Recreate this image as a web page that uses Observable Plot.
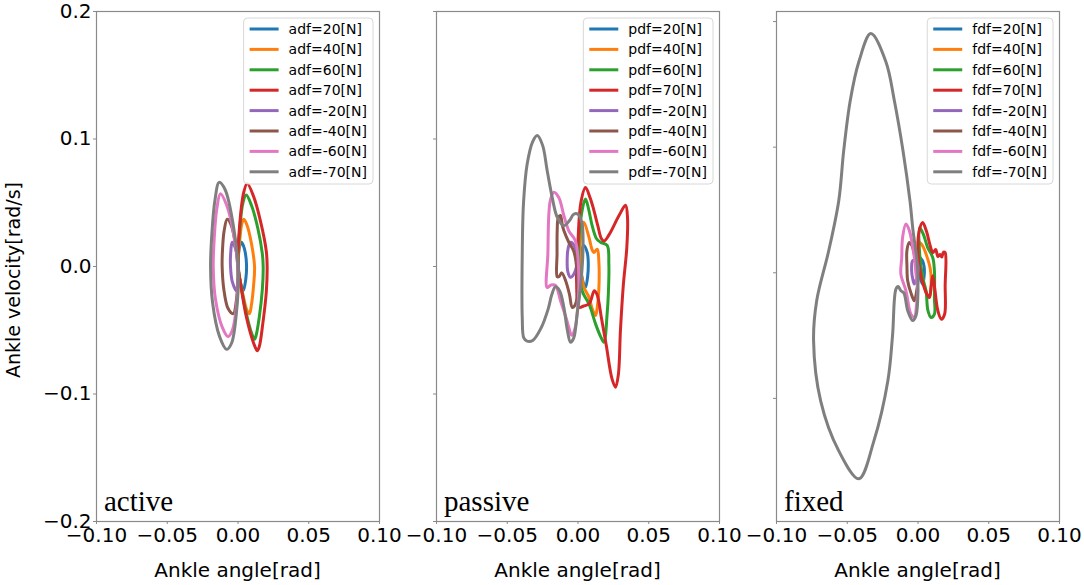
<!DOCTYPE html>
<html><head><meta charset="utf-8">
<script src="https://cdn.jsdelivr.net/npm/d3@7"></script>
<script src="https://cdn.jsdelivr.net/npm/@observablehq/plot@0.6"></script>
<style>
html,body{margin:0;padding:0;background:#fff;}
#wrap{position:relative;width:1084px;height:585px;overflow:hidden;background:#fff;}
#wrap svg{position:absolute;top:0;}
</style></head><body><div id="wrap"></div>
<script>
// ---- categories / labels ----
const forces = [20, 40, 60, 70, -20, -40, -60, -70];
const colors = ["#1f77b4","#ff7f0e","#2ca02c","#d62728","#9467bd","#8c564b","#e377c2","#7f7f7f"];
const prefixes = ["adf", "pdf", "fdf"];
const panelNames = ["active", "passive", "fixed"];
const xTicks = [-0.1, -0.05, 0, 0.05, 0.1];
const yTicks = [-0.2, -0.1, 0, 0.1, 0.2];
const yTicksFixed = [-0.1, 0, 0.1, 0.2];
const yDomain = [-0.2, 0.2];
const yDomainFixed = [-0.198, 0.208];
const xLabel = "Ankle angle[rad]";
const yLabel = "Ankle velocity[rad/s]";

// ---- active: [angle, velocity] ----
const a20 = [[0.0025,0.019],[0.0045,0.014],[0.0060,0.002],[0.0055,-0.010],[0.0037,-0.019],[0.0020,-0.014],[0.0005,-0.004],[0.0003,0.008],[0.0012,0.016]];
const a40 = [[0.0041,0.037],[0.0065,0.032],[0.0095,0.018],[0.0117,0.000],[0.0110,-0.015],[0.0095,-0.030],[0.0081,-0.037],[0.0062,-0.034],[0.0035,-0.022],[0.0010,-0.008],[0.0000,0.002],[0.0012,0.020],[0.0028,0.034]];
const a60 = [[0.0058,0.056],[0.0095,0.048],[0.0140,0.030],[0.0172,0.010],[0.0178,0.000],[0.0172,-0.018],[0.0150,-0.040],[0.0128,-0.054],[0.0117,-0.057],[0.0095,-0.052],[0.0055,-0.035],[0.0018,-0.013],[0.0000,0.000],[0.0010,0.026],[0.0035,0.050]];
const a70 = [[0.0065,0.065],[0.0110,0.055],[0.0160,0.035],[0.0200,0.012],[0.0206,0.000],[0.0200,-0.020],[0.0175,-0.045],[0.0150,-0.063],[0.0136,-0.066],[0.0110,-0.060],[0.0060,-0.040],[0.0020,-0.015],[0.0000,0.000],[0.0010,0.030],[0.0040,0.058]];
const aM20 = [[-0.0041,0.019],[-0.0052,0.010],[-0.0053,0.000],[-0.0040,-0.012],[-0.0010,-0.019],[0.0000,-0.010],[0.0000,0.002],[-0.0015,0.013]];
const aM40 = [[-0.0076,0.037],[-0.0098,0.028],[-0.0110,0.012],[-0.0112,0.000],[-0.0100,-0.018],[-0.0070,-0.033],[-0.0034,-0.037],[-0.0010,-0.025],[0.0000,-0.005],[-0.0015,0.015],[-0.0050,0.033]];
const aM60 = [[-0.0124,0.057],[-0.0150,0.045],[-0.0168,0.022],[-0.0175,0.000],[-0.0160,-0.025],[-0.0110,-0.048],[-0.0070,-0.055],[-0.0040,-0.050],[-0.0010,-0.030],[0.0000,-0.005],[-0.0030,0.025],[-0.0080,0.048]];
const aM70 = [[-0.0133,0.066],[-0.0163,0.052],[-0.0185,0.025],[-0.0194,0.000],[-0.0180,-0.028],[-0.0130,-0.055],[-0.0080,-0.065],[-0.0045,-0.060],[-0.0010,-0.035],[0.0002,-0.005],[-0.0030,0.030],[-0.0090,0.060]];

// ---- passive ----
const p20 = [[0.0041,0.0165],[0.0065,0.011],[0.0072,0.0047],[0.0068,-0.008],[0.0053,-0.0162],[0.0035,-0.012],[0.0018,0.0008],[0.0025,0.012]];
const p40 = [[0.0041,0.0348],[0.0077,0.0231],[0.0100,0.0130],[0.0112,0.0110],[0.0136,0.0135],[0.0147,0.0047],[0.0147,-0.0188],[0.0135,-0.033],[0.0124,-0.0384],[0.0100,-0.033],[0.0077,-0.024],[0.0041,-0.016],[0.0018,0.002],[0.0018,0.0231]];
const p60 = [[0.0053,0.053],[0.0075,0.045],[0.0100,0.032],[0.0130,0.022],[0.0159,0.0191],[0.0206,0.0165],[0.0218,0.0021],[0.0215,-0.020],[0.0206,-0.037],[0.0183,-0.0594],[0.0160,-0.055],[0.0124,-0.045],[0.0080,-0.030],[0.0029,-0.019],[0.0006,0.0021],[0.0018,0.036]];
const p70 = [[0.0053,0.062],[0.0085,0.054],[0.0110,0.045],[0.0140,0.032],[0.0165,0.022],[0.0185,0.020],[0.0220,0.025],[0.0290,0.040],[0.0336,0.048],[0.0350,0.038],[0.0345,0.015],[0.0320,-0.015],[0.0300,-0.050],[0.0285,-0.085],[0.0265,-0.0947],[0.0240,-0.088],[0.0200,-0.062],[0.0165,-0.040],[0.0135,-0.022],[0.0115,-0.019],[0.0080,-0.029],[0.0040,-0.031],[0.0008,-0.032],[-0.0010,-0.012],[0.0000,0.020],[0.0020,0.050]];
const pM20 = [[-0.0053,0.019],[-0.0070,0.014],[-0.0076,0.0073],[-0.0072,-0.004],[-0.0053,-0.0084],[-0.0030,-0.006],[-0.0006,0.004],[-0.0020,0.015]];
const pM40 = [[-0.0124,0.040],[-0.0110,0.032],[-0.0100,0.0282],[-0.0065,0.019],[-0.0030,0.012],[-0.0006,-0.005],[-0.0006,-0.024],[-0.0025,-0.031],[-0.0041,-0.032],[-0.0060,-0.022],[-0.0088,-0.011],[-0.0115,-0.005],[-0.0135,-0.008],[-0.0147,-0.008],[-0.0148,0.010],[-0.0147,0.028],[-0.0140,0.038]];
const pM60 = [[-0.0171,0.0583],[-0.0195,0.052],[-0.0206,0.041],[-0.0213,0.010],[-0.0218,-0.0165],[-0.0190,-0.0145],[-0.0159,-0.0149],[-0.0124,-0.0267],[-0.0085,-0.040],[-0.0065,-0.0477],[-0.0045,-0.054],[-0.0020,-0.048],[-0.0006,-0.0371],[0.0006,-0.011],[-0.0018,0.020],[-0.0065,0.028],[-0.0100,0.040],[-0.0135,0.054]];
const pM70 = [[-0.0288,0.1027],[-0.0250,0.095],[-0.0218,0.0753],[-0.0182,0.054],[-0.0147,0.0387],[-0.0100,0.032],[-0.0060,0.036],[-0.0030,0.041],[0.0000,0.041],[0.0028,0.034],[0.0035,0.012],[0.0015,-0.019],[-0.0006,-0.037],[-0.0030,-0.056],[-0.0053,-0.0594],[-0.0075,-0.050],[-0.0100,-0.032],[-0.0130,-0.019],[-0.0160,-0.016],[-0.0185,-0.022],[-0.0210,-0.033],[-0.0260,-0.048],[-0.0320,-0.058],[-0.0360,-0.0585],[-0.0383,-0.056],[-0.0394,-0.040],[-0.0394,0.010],[-0.0385,0.050],[-0.0359,0.0805],[-0.0320,0.098]];

// ---- fixed ----
const f20 = [[0.0009,0.0122],[0.0030,0.010],[0.0045,0.003],[0.0042,-0.004],[0.0033,-0.0090],[0.0018,-0.005],[0.0009,0.0016],[0.0005,0.008]];
const f40 = [[0.0012,0.0241],[0.0035,0.021],[0.0057,0.0149],[0.0087,0.003],[0.0092,-0.0112],[0.0080,-0.0197],[0.0057,-0.016],[0.0033,-0.0037],[0.0009,0.0122]];
const f60 = [[0.0012,0.036],[0.0040,0.030],[0.0068,0.0202],[0.0104,0.0122],[0.0116,0.0016],[0.0116,-0.020],[0.0116,-0.033],[0.0092,-0.0356],[0.0070,-0.030],[0.0057,-0.0144],[0.0033,-0.0037],[0.0009,0.020]];
const f70 = [[0.0033,0.040],[0.0060,0.033],[0.0085,0.022],[0.0105,0.016],[0.0125,0.0185],[0.0140,0.013],[0.0155,0.0145],[0.0168,0.0125],[0.0180,0.0165],[0.0192,0.0160],[0.0192,-0.010],[0.0188,-0.033],[0.0165,-0.0370],[0.0140,-0.030],[0.0118,-0.012],[0.0104,-0.0024],[0.0092,-0.012],[0.0080,-0.0197],[0.0055,-0.015],[0.0020,-0.002],[0.0000,0.015],[0.0008,0.033]];
const fM20 = [[-0.0038,0.0096],[-0.0045,0.0016],[-0.0035,-0.006],[-0.0026,-0.0090],[-0.0005,-0.002],[0.0002,0.004],[-0.0015,0.009]];
const fM40 = [[-0.0061,0.0241],[-0.0078,0.018],[-0.0078,0.005],[-0.0073,-0.0064],[-0.0050,-0.016],[-0.0026,-0.0223],[-0.0010,-0.015],[-0.0002,-0.0064],[-0.0015,0.005],[-0.0026,0.0149],[-0.0045,0.022]];
const fM60 = [[-0.0085,0.0388],[-0.0109,0.028],[-0.0115,0.012],[-0.0121,-0.0011],[-0.0085,-0.0144],[-0.0050,-0.033],[-0.0026,-0.0356],[-0.0010,-0.025],[-0.0002,-0.0144],[-0.0015,0.000],[-0.0026,0.0122],[-0.0061,0.0335]];
const fM70 = [[-0.0333,0.1904],[-0.0227,0.168],[-0.0167,0.137],[-0.0106,0.0972],[-0.0057,0.0574],[-0.0035,0.0335],[-0.0007,0.0096],[0.0000,-0.008],[-0.0014,-0.034],[-0.0038,-0.038],[-0.0073,-0.030],[-0.0100,-0.016],[-0.0121,-0.0143],[-0.0140,-0.011],[-0.0156,-0.013],[-0.0180,-0.050],[-0.0213,-0.086],[-0.0312,-0.134],[-0.0418,-0.164],[-0.0560,-0.1418],[-0.0688,-0.102],[-0.0738,-0.054],[-0.0716,-0.0223],[-0.0631,0.0175],[-0.0560,0.0574],[-0.0525,0.0972],[-0.0479,0.137],[-0.0418,0.168]];

const activeCurves = [a20, a40, a60, a70, aM20, aM40, aM60, aM70];
const passiveCurves = [p20, p40, p60, p70, pM20, pM40, pM60, pM70];
const fixedCurves = [f20, f40, f60, f70, fM20, fM40, fM60, fM70];

// ---- layout ----
const W = 1084, H = 585;
const frameTop = 11, frameBottom = 521, frameW = 283;
const panelOffsets = [0, 340, 680];
const plotW = 400, mLeft = 96, mRight = plotW - mLeft - frameW;
const axisColor = "#8a8a8a";

const panels = [
  {curves: activeCurves, yDomain, yTicks, yLabels: true},
  {curves: passiveCurves, yDomain, yTicks, yLabels: false},
  {curves: fixedCurves, yDomain: yDomainFixed, yTicks: yTicksFixed, yLabels: false}
];

const wrap = document.getElementById("wrap");

panels.forEach((p, k) => {
  const svg = Plot.plot({
    width: plotW, height: H,
    marginLeft: mLeft, marginRight: mRight,
    marginTop: frameTop, marginBottom: H - frameBottom,
    x: {domain: [-0.1, 0.1]},
    y: {domain: p.yDomain},
    style: {background: "transparent", fontFamily: "DejaVu Sans", fontSize: "20px", overflow: "visible", maxWidth: "none"},
    marks: [
      Plot.axisX({ticks: xTicks, tickFormat: ".2f", tickSize: 3, tickPadding: 3.5, stroke: axisColor, fill: "black", label: null}),
      Plot.axisY({ticks: p.yTicks, tickFormat: p.yLabels ? ".1f" : () => "", tickSize: 3, tickPadding: 2, stroke: axisColor, fill: "black", label: null}),
      ...p.curves.map((pts, i) => Plot.line(pts, {
        x: d => d[0], y: d => d[1], stroke: colors[i], strokeWidth: 3, curve: "catmull-rom-closed"
      })),
      Plot.frame({stroke: axisColor, strokeWidth: 1.2})
    ]
  });
  svg.style.left = panelOffsets[k] + "px";
  wrap.appendChild(svg);
});

// ---- overlay: labels, panel names, legends ----
const ov = d3.select(wrap).append("svg")
  .attr("width", W).attr("height", H).style("left", "0px").style("overflow", "visible");

ov.append("text")
  .attr("transform", `translate(20,280) rotate(-90)`)
  .attr("text-anchor", "middle")
  .attr("font-family", "DejaVu Sans").attr("font-size", 19)
  .text(yLabel);

panelOffsets.forEach((off, k) => {
  const left = off + mLeft, right = left + frameW;
  ov.append("text")
    .attr("x", (left + right) / 2).attr("y", 577)
    .attr("text-anchor", "middle")
    .attr("font-family", "DejaVu Sans").attr("font-size", 20)
    .text(xLabel);
  ov.append("text")
    .attr("x", left + 8).attr("y", 511)
    .attr("font-family", "Liberation Serif").attr("font-size", 29)
    .text(panelNames[k]);

  // legend
  const g = ov.append("g");
  const rect = g.append("rect");
  const labels = forces.map(f => `${prefixes[k]}=${f}[N]`);
  const rowY = i => 29 + i * 20.4;
  const texts = labels.map((t, i) => g.append("text")
    .attr("y", rowY(i)).attr("dy", "0.36em")
    .attr("font-family", "DejaVu Sans").attr("font-size", 14)
    .text(t));
  const maxW = d3.max(texts, t => t.node().getComputedTextLength());
  const boxW = 6 + 29 + 10 + maxW + 6;
  const bx = right - 6 - boxW;
  rect.attr("x", bx).attr("y", 18).attr("width", boxW).attr("height", 166)
    .attr("rx", 4).attr("fill", "white").attr("fill-opacity", 0.8)
    .attr("stroke", "#d8d8d8").attr("stroke-width", 1);
  texts.forEach(t => t.attr("x", bx + 45));
  labels.forEach((t, i) => g.append("line")
    .attr("x1", bx + 6).attr("x2", bx + 35)
    .attr("y1", rowY(i)).attr("y2", rowY(i))
    .attr("stroke", colors[i]).attr("stroke-width", 3));
});
</script>
</body></html>
